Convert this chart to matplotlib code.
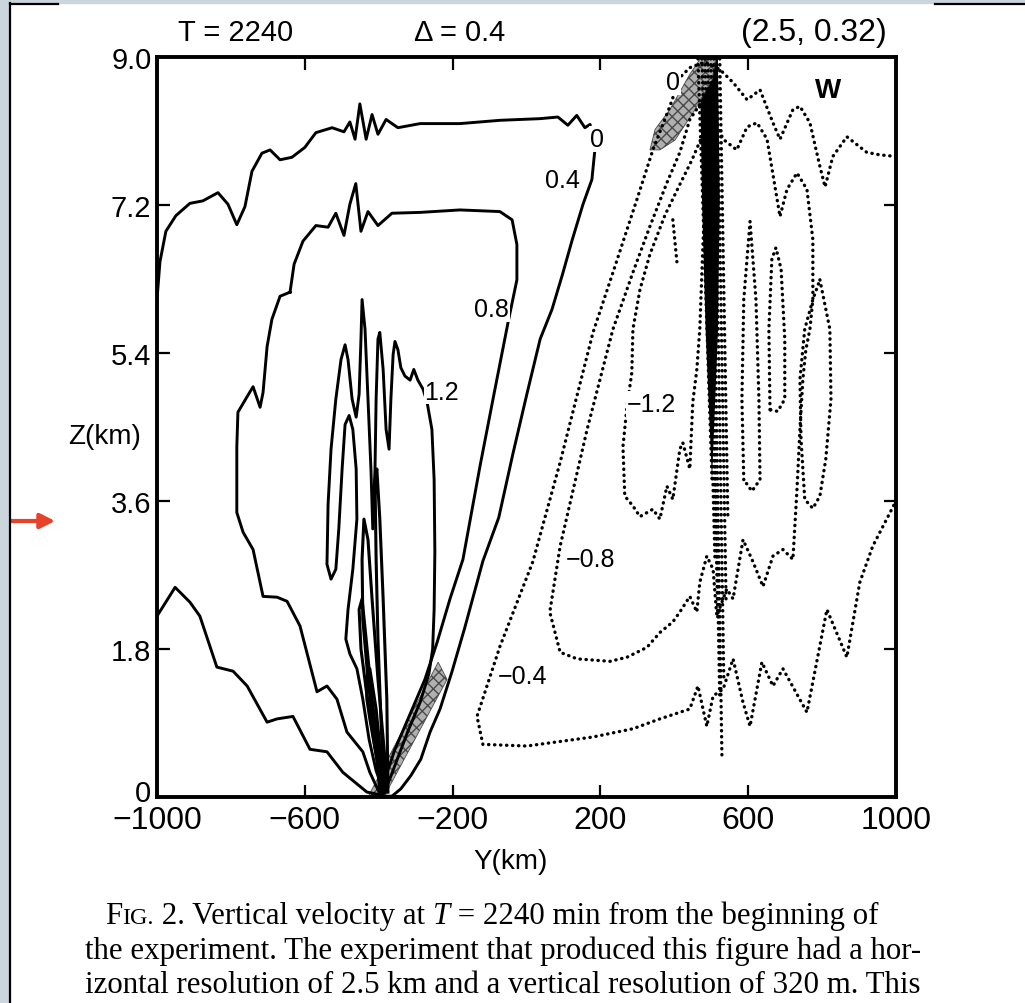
import matplotlib
matplotlib.use('Agg')
import matplotlib.pyplot as plt
import matplotlib.transforms as mtrans
from matplotlib.patches import Rectangle, Polygon
from matplotlib.lines import Line2D
from matplotlib.offsetbox import TextArea, HPacker, AnnotationBbox

plt.rcParams['font.family'] = ['Liberation Sans', 'DejaVu Sans']

# axis ticks
x_ticks = [-1000, -600, -200, 200, 600, 1000]
x_ticklabels = ['\u22121000', '\u2212600', '\u2212200', '200', '600', '1000']
z_ticks = [0, 1.8, 3.6, 5.4, 7.2, 9.0]
z_ticklabels = ['0', '1.8', '3.6', '5.4', '7.2', '9.0']

# solid contours (Y km, Z km)
c04_y = [-1000, -992, -976, -949, -911, -876, -835, -808, -784, -762, -743, -716, -694, -667, -635,
         -600, -570, -526, -494, -478, -464, -451, -434, -418, -402, -380, -348, -288, -180, -72,
         36, 85, 112, 136, 158, 172, 185, 177, 153, 124, 97, 69, 37, 1, -37, -75, -118, -167,
         -202, -234, -261, -286, -313, -340, -364, -378,
         -432, -497, -540, -586, -632, -675, -702, -756, -794, -838, -884, -911, -951, -1000]
c04_z = [6.05, 6.51, 6.88, 7.07, 7.22, 7.25, 7.35, 7.21, 6.96, 7.18, 7.61, 7.83, 7.87, 7.75, 7.78,
         7.90, 8.08, 8.14, 8.09, 8.21, 8.00, 8.43, 8.00, 8.30, 8.06, 8.24, 8.14, 8.19, 8.19, 8.23,
         8.25, 8.27, 8.17, 8.29, 8.14, 8.18, 7.87, 7.51, 7.21, 6.78, 6.35, 5.93, 5.57, 4.90, 4.17,
         3.40, 2.87, 2.06, 1.52, 1.07, 0.79, 0.46, 0.26, 0.10, 0.01, 0.01,
         0.06, 0.30, 0.55, 0.58, 0.98, 0.95, 0.91, 1.35, 1.53, 1.58, 2.20, 2.37, 2.55, 2.20]

c08_y = [-640, -629, -605, -570, -537, -516, -494, -478, -462, -448, -429, -402, -364, -288, -180,
         -72, -39, -26, -26, -50, -88, -126, -172, -207, -242, -275, -315, -356, -383, -397,
         -424, -443, -486, -513, -540, -567, -613, -648, -675, -713, -740, -767, -784, -784, -781,
         -756, -740, -721, -713, -702, -689, -667, -640]
c08_z = [6.14, 6.48, 6.76, 6.95, 6.93, 7.10, 6.83, 7.21, 7.46, 6.88, 7.12, 6.95, 7.10, 7.11, 7.14,
         7.12, 7.02, 6.72, 6.29, 5.77, 4.90, 4.02, 2.89, 2.41, 1.88, 1.43, 1.01, 0.58, 0.22, 0.04,
         0.30, 0.55, 0.79, 1.19, 1.35, 1.28, 2.08, 2.38, 2.43, 2.44, 3.01, 3.22, 3.46, 4.26, 4.68,
         4.87, 4.99, 4.74, 4.92, 5.48, 5.81, 6.09, 6.14]

c12_y = [-386, -407, -426, -443, -459, -478, -489, -483, -470, -459, -461, -470, -480, -491, -499,
         -508, -516, -529, -540, -537, -529, -516, -502, -491, -483, -472, -461, -453, -448, -445,
         -437, -429, -421, -416, -410, -407, -402, -397, -388, -380, -372, -367, -361, -356, -348,
         -340, -329, -315, -305, -294, -280, -269, -256, -250, -248, -250, -254, -264, -288, -321,
         -353, -375, -386]
c12_z = [0.06, 0.32, 0.70, 1.19, 1.56, 1.74, 1.92, 2.28, 2.77, 3.38, 3.99, 4.47, 4.64, 4.53, 3.99,
         3.26, 2.77, 2.65, 2.83, 3.56, 4.23, 4.84, 5.32, 5.50, 5.32, 4.84, 4.62, 4.90, 5.57, 6.05,
         5.69, 4.84, 3.99, 3.26, 3.99, 4.84, 5.57, 5.65, 5.20, 4.47, 4.23, 4.84, 5.38, 5.54, 5.44,
         5.22, 5.12, 5.07, 5.20, 5.07, 4.96, 4.80, 4.47, 3.86, 2.98, 2.28, 1.80, 1.50, 1.15, 0.80,
         0.42, 0.16, 0.06]

# inner positive contours packed near the surface front
i1_y = [-388, -410, -429, -443, -445, -440, -429, -418, -402, -383, -380]
i1_z = [0.06, 0.70, 1.43, 2.16, 2.89, 3.38, 3.13, 2.41, 1.43, 0.46, 0.06]
i2_y = [-391, -418, -434, -448, -453, -445, -434, -418, -397, -386]
i2_z = [0.06, 0.83, 1.31, 1.80, 2.28, 2.41, 1.92, 1.19, 0.46, 0.06]
i3_y = [-386, -394, -402, -407, -410, -405, -397, -388, -378, -375]
i3_z = [0.06, 0.95, 1.92, 2.89, 3.86, 3.99, 3.38, 2.41, 1.19, 0.06]
i4_y = [-397, -405, -424, -432, -434, -424, -407, -391]
i4_z = [0.06, 0.46, 0.95, 1.19, 1.43, 1.56, 1.07, 0.34]

# negative (dotted) contours
n04_y = [1000, 956, 921, 867, 829, 808, 794, 767, 740, 721, 686, 667, 632, 597, 559, 523, 483, 442,
         415, 388, 342, 299, 234, 180, 91, 17, -72, -134, -118, 1, 180, 288, 361, 442, 464, 488,
         505, 532, 559, 586, 605, 637, 667, 694, 759, 813, 867, 902, 937, 1000]
n04_z = [7.79, 7.81, 7.84, 8.03, 7.79, 7.42, 7.67, 8.20, 8.40, 8.36, 8.00, 8.20, 8.60, 8.48, 8.69,
         8.85, 8.94, 8.87, 8.75, 8.40, 7.87, 7.27, 6.38, 5.65, 4.07, 2.86, 1.83, 0.98, 0.64, 0.62,
         0.73, 0.83, 0.95, 1.07, 1.35, 0.86, 1.23, 1.31, 1.68, 1.15, 0.86, 1.64, 1.35, 1.56, 1.03,
         2.28, 1.70, 2.61, 3.05, 3.60]

n08_y = [469, 442, 415, 380, 334, 288, 234, 164, 91, 63, 91, 137, 226, 272, 326, 361, 396, 415,
         442, 461, 469, 488, 505, 515, 542, 559, 586, 613, 640, 667, 694, 721, 732, 740, 748, 756,
         767, 775, 775, 759, 732, 705, 686, 651, 624, 597, 569, 532, 510]
n08_z = [8.42, 8.24, 7.84, 7.47, 6.94, 6.38, 5.69, 4.47, 3.05, 2.25, 1.76, 1.68, 1.65, 1.70, 1.82,
         2.00, 2.13, 2.25, 2.44, 2.25, 2.61, 2.93, 2.77, 2.20, 2.53, 2.41, 3.13, 2.86, 2.56, 2.93,
         3.01, 2.89, 3.74, 4.47, 5.08, 5.44, 5.69, 6.05, 6.78, 7.39, 7.59, 7.39, 7.06, 8.00, 8.20,
         8.15, 7.87, 8.00, 8.24]

n12_y = [483, 448, 415, 375, 334, 307, 288, 285, 272, 261, 266, 288, 307, 342, 361, 380, 396, 415,
         423, 442, 450, 461, 469, 477, 485]
n12_z = [8.12, 7.75, 7.45, 7.08, 6.60, 6.17, 5.69, 5.16, 4.75, 4.26, 3.66, 3.54, 3.41, 3.50, 3.38,
         3.78, 3.62, 4.23, 4.31, 3.99, 4.80, 5.20, 5.69, 6.66, 7.51]

# narrow dotted fingers east of the front
f1_y = [794, 821, 824, 810, 794, 775, 753, 743, 740, 753, 775, 794]
f1_z = [6.29, 5.69, 4.84, 4.11, 3.66, 3.51, 3.62, 4.35, 5.08, 5.69, 6.05, 6.29]
fa_y = [588, 583, 588, 605, 621, 629, 632, 610, 588]
fa_z = [3.86, 4.84, 6.05, 7.00, 6.05, 4.84, 3.86, 3.72, 3.86]
fb_y = [659, 656, 664, 675, 689, 699, 699, 680, 659]
fb_z = [4.71, 5.69, 6.54, 6.68, 6.42, 5.57, 4.84, 4.69, 4.71]
fc_y = [396, 407]
fc_z = [7.02, 6.51]

# dense dotted band of the upper front
band_top_y = [464, 475, 483, 491, 499, 507, 515, 523]
band_bot_y = [502, 510, 518, 523, 529, 534, 540, 545]
band_bot_z = [3.86, 2.89, 2.16, 1.19, 0.46, 1.43, 2.41, 3.38]
core_y = [469, 518, 523, 518, 502, 485, 475]
core_z = [8.98, 8.98, 7.27, 5.65, 3.86, 5.65, 7.27]

# shaded frontal zones
shade_low_y = [-429, -386, -215, -239]
shade_low_z = [0.0, 0.0, 1.43, 1.64]
shade_up_y = [334, 348, 388, 442, 469, 512, 502, 456, 402, 361]
shade_up_z = [7.87, 8.12, 8.36, 8.79, 8.97, 8.97, 8.72, 8.36, 7.99, 7.87]

# contour labels
lab_text = ['0.4', '0.8', '1.2', '0', '0', '\u22121.2', '\u22120.8', '\u22120.4']
lab_y = [96, -94, -229, 191, 396, 339, 172, -12]
lab_z = [7.51, 5.93, 4.93, 8.0, 8.69, 4.78, 2.89, 1.47]

W, H = 1025, 1004
fig = plt.figure(figsize=(W / 100, H / 100), dpi=100)
fig.patch.set_facecolor('white')

def fx(px):
    return px / W

def fy(py):
    return 1 - py / H

ax = fig.add_axes([fx(157), fy(798), fx(896 - 157), (798 - 58) / H])
ax.set_xlim(-1000, 1000)
ax.set_ylim(0, 9)

solid = dict(color='black', lw=2.1, solid_joinstyle='round')
ax.plot(c04_y, c04_z, **solid)
ax.plot(c08_y, c08_z, **solid)
ax.plot(c12_y, c12_z, **solid)
for yy, zz in [(i1_y, i1_z), (i2_y, i2_z), (i3_y, i3_z), (i4_y, i4_z)]:
    ax.plot(yy, zz, color='black', lw=2.2)

dots = dict(color='black', lw=2.4, linestyle=(0, (0.1, 1.7)), dash_capstyle='round')
ax.plot(n04_y, n04_z, **dots)
ax.plot(n08_y, n08_z, **dots)
ax.plot(n12_y, n12_z, **dots)
for yy, zz in [(f1_y, f1_z), (fa_y, fa_z), (fb_y, fb_z), (fc_y, fc_z)]:
    ax.plot(yy, zz, **dots)
for t, b, bz in zip(band_top_y, band_bot_y, band_bot_z):
    ax.plot([t, b], [8.98, bz], **dots)
ax.add_patch(Polygon(list(zip(core_y, core_z)), closed=True, color='black', lw=0))

for sy, sz in [(shade_low_y, shade_low_z), (shade_up_y, shade_up_z)]:
    ax.add_patch(Polygon(list(zip(sy, sz)), closed=True, facecolor='#b0b0b0',
                         edgecolor='#4a4a4a', hatch='xxx', lw=0.6))

for s, yy, zz in zip(lab_text, lab_y, lab_z):
    ax.text(yy, zz, s, fontsize=18, ha='center', va='center',
            bbox=dict(facecolor='white', edgecolor='none', pad=0.5))
ax.text(816, 8.60, 'W', fontsize=20, ha='center', va='center', fontweight='bold')

ax.set_xticks(x_ticks)
ax.set_xticklabels(x_ticklabels)
ax.set_yticks(z_ticks)
ax.set_yticklabels(z_ticklabels)
ax.tick_params(direction='in', length=9, width=1.6, top=True, right=True)
ax.tick_params(axis='x', labelsize=23, pad=6)
ax.tick_params(axis='y', labelsize=21, pad=4)
for sp in ax.spines.values():
    sp.set_linewidth(2.8)
lab0 = ax.get_yticklabels()[0]
lab0.set_transform(lab0.get_transform() + mtrans.ScaledTranslation(0, 5 / 72, fig.dpi_scale_trans))

fig.text(fx(236), fy(33), 'T = 2240', fontsize=21, ha='center', va='center')
fig.text(fx(460), fy(33), '\u0394 = 0.4', fontsize=21, ha='center', va='center')
fig.text(fx(814), fy(33), '(2.5, 0.32)', fontsize=23, ha='center', va='center')
fig.text(fx(511), fy(862), 'Y(km)', fontsize=20, ha='center', va='center')
fig.text(fx(105), fy(437), 'Z(km)', fontsize=20, ha='center', va='center')

# caption
serif = 'Liberation Serif'
cap_size = 20
line2 = 'the experiment. The experiment that produced this figure had a hor-'
line3 = 'izontal resolution of 2.5 km and a vertical resolution of 320 m. This'
t2 = fig.text(fx(85), fy(951), line2, fontsize=cap_size, family=serif, ha='left', va='center')
fig.canvas.draw()
w2 = t2.get_window_extent().width
cap_size = cap_size * (921 - 85) / w2
t2.set_fontsize(cap_size)
fig.text(fx(85), fy(986), line3, fontsize=cap_size, family=serif, ha='left', va='center')

tp = dict(family=serif, fontsize=cap_size, color='black')
tps = dict(family=serif, fontsize=cap_size * 0.78, color='black')
tpi = dict(family=serif, fontsize=cap_size, style='italic', color='black')
parts = [TextArea('F', textprops=tp), TextArea('IG.', textprops=tps),
         TextArea(' 2. Vertical velocity at ', textprops=tp), TextArea('T', textprops=tpi),
         TextArea(' = 2240 min from the beginning of', textprops=tp)]
row = HPacker(children=parts, align='baseline', pad=0, sep=0)
ab = AnnotationBbox(row, (fx(105), fy(916)), xycoords='figure fraction', box_alignment=(0, 0.5),
                    frameon=False, pad=0)
fig.add_artist(ab)

# page frame of the scan
fig.add_artist(Rectangle((0, 0), fx(9), 1, transform=fig.transFigure, color='#cbd5dc', zorder=5))
fig.add_artist(Rectangle((0, fy(4)), 1, 4 / H, transform=fig.transFigure, color='#cbd5dc', zorder=5))
fig.add_artist(Line2D([fx(10), fx(10)], [0, fy(4)], transform=fig.transFigure, color='black', lw=1.6, zorder=6))
fig.add_artist(Line2D([fx(10), fx(58)], [fy(5), fy(5)], transform=fig.transFigure, color='black', lw=1.6, zorder=6))
fig.add_artist(Line2D([fx(935), 1], [fy(5), fy(5)], transform=fig.transFigure, color='black', lw=1.6, zorder=6))
ax.annotate('', xy=(58, H - 522), xycoords='figure pixels', xytext=(0, H - 522),
            arrowprops=dict(arrowstyle='-|>', color='#e6432a', lw=3, mutation_scale=22),
            annotation_clip=False)

fig.savefig('out.png', dpi=100)
